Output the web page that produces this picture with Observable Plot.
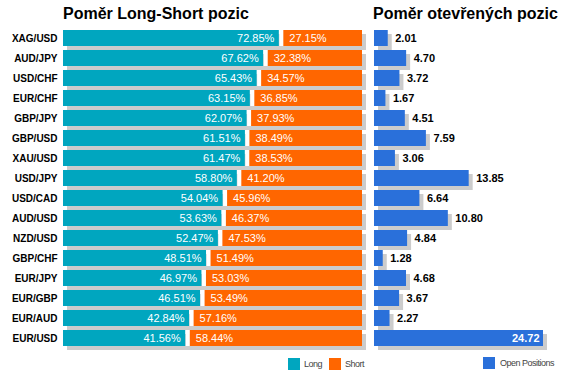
<!DOCTYPE html>
<html><head><meta charset="utf-8">
<script src="https://cdn.jsdelivr.net/npm/d3@7"></script>
<script src="https://cdn.jsdelivr.net/npm/@observablehq/plot@0.6"></script>
<style>
body{margin:0;background:#fff;font-family:"Liberation Sans",Arial,sans-serif;}
#wrap{position:relative;width:571px;height:379px;overflow:hidden;}
#wrap svg{position:absolute;left:0;top:0;}
.title{position:absolute;font-weight:bold;font-size:16px;color:#000;white-space:nowrap;}
.leg{position:absolute;font-size:9px;letter-spacing:-0.5px;color:#444;white-space:nowrap;}
.sw{position:absolute;width:12px;height:12px;}
</style></head>
<body>
<div id="wrap">
  <div class="title" style="left:63px;top:5px;">Poměr Long-Short pozic</div>
  <div class="title" style="left:373px;top:5px;">Poměr otevřených pozic</div>
  <div class="sw" style="left:288px;top:358px;background:#00A6BF"></div>
  <div class="leg" style="left:304px;top:359px;">Long</div>
  <div class="sw" style="left:329px;top:358px;background:#FF6600"></div>
  <div class="leg" style="left:345px;top:359px;">Short</div>
  <div class="sw" style="left:483px;top:357px;background:#2A70DA"></div>
  <div class="leg" style="left:500px;top:358px;">Open Positions</div>
</div>
<script>
const pairs = ["XAG/USD","AUD/JPY","USD/CHF","EUR/CHF","GBP/JPY","GBP/USD","XAU/USD","USD/JPY","USD/CAD","AUD/USD","NZD/USD","GBP/CHF","EUR/JPY","EUR/GBP","EUR/AUD","EUR/USD"];
const longPct = [72.85,67.62,65.43,63.15,62.07,61.51,61.47,58.80,54.04,53.63,52.47,48.51,46.97,46.51,42.84,41.56];
const shortPct = [27.15,32.38,34.57,36.85,37.93,38.49,38.53,41.20,45.96,46.37,47.53,51.49,53.03,53.49,57.16,58.44];
const openPos = [2.01,4.70,3.72,1.67,4.51,7.59,3.06,13.85,6.64,10.80,4.84,1.28,4.68,3.67,2.27,24.72];

const rows = pairs.map((p,i)=>({pair:p, long:longPct[i], short:shortPct[i], open:openPos[i]}));
const teal="#00A6BF", orange="#FF6600", blue="#2A70DA", shadow="#CCCCCC";
const font = "Liberation Sans, Arial, sans-serif";
const yScale = {domain: pairs, paddingInner: 0.2, paddingOuter: 0.1};

const left = Plot.plot({
  width: 571, height: 379,
  marginLeft: 63, marginRight: 209, marginTop: 28, marginBottom: 31,
  style: {fontFamily: font, background: "transparent"},
  x: {domain: [0, 100], axis: null},
  y: {...yScale, label: null},
  marks: [
    Plot.barX(rows, {x1: 0, x2: 100, y: "pair", fill: shadow, dx: 4, dy: 4}),
    Plot.barX(rows, {x1: 0, x2: "long", y: "pair", fill: teal, insetRight: 2}),
    Plot.barX(rows, {x1: "long", x2: 100, y: "pair", fill: orange, insetLeft: 2}),
    Plot.tickX(rows, {x: "long", y: "pair", stroke: "white", strokeWidth: 4}),
    Plot.text(rows, {x: "long", y: "pair", text: d => d.long.toFixed(2) + "%", dx: -7, textAnchor: "end", fill: "white", fontSize: 11}),
    Plot.text(rows, {x: "long", y: "pair", text: d => d.short.toFixed(2) + "%", dx: 8, textAnchor: "start", fill: "white", fontSize: 11}),
    Plot.axisY({tickSize: 0, tickPadding: 6, fontSize: 10, fontWeight: "bold", fill: "#000", label: null})
  ]
});

const right = Plot.plot({
  width: 571, height: 379,
  marginLeft: 374, marginRight: 28, marginTop: 28, marginBottom: 31,
  style: {fontFamily: font, background: "transparent"},
  x: {domain: [0, d3.max(openPos)], axis: null},
  y: {...yScale, axis: null},
  marks: [
    Plot.barX(rows, {x: "open", y: "pair", fill: shadow, dx: 4, dy: 4}),
    Plot.barX(rows, {x: "open", y: "pair", fill: blue}),
    Plot.text(rows.filter(d => d.open < 20), {x: "open", y: "pair", text: d => d.open.toFixed(2), dx: 7, textAnchor: "start", fill: "#000", fontSize: 11, fontWeight: "bold"}),
    Plot.text(rows.filter(d => d.open >= 20), {x: "open", y: "pair", text: d => d.open.toFixed(2), dx: -4, textAnchor: "end", fill: "white", fontSize: 11, fontWeight: "bold"})
  ]
});

const wrap = document.getElementById("wrap");
wrap.prepend(right);
wrap.prepend(left);
</script>
</body></html>
